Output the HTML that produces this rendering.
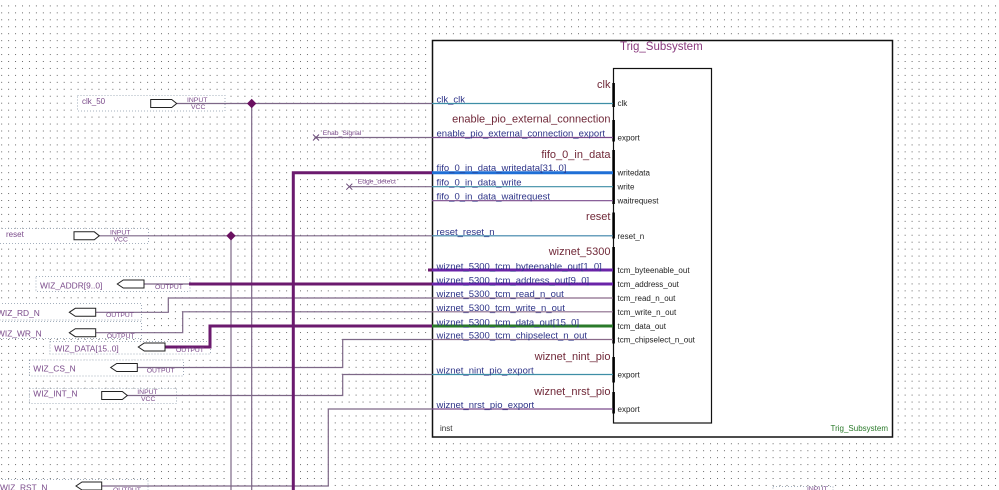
<!DOCTYPE html>
<html><head><meta charset="utf-8"><style>
html,body{margin:0;padding:0;background:#fff;}
svg{display:block;}
text{font-family:"Liberation Sans",Arial,sans-serif;}
</style></head><body>
<svg width="999" height="490" viewBox="0 0 999 490" xmlns="http://www.w3.org/2000/svg">
<defs>
<pattern id="g" patternUnits="userSpaceOnUse" x="1.15" y="5.4" width="6.95" height="6.95">
<rect x="0" y="0" width="1" height="1" fill="#6a6a6a"/>
</pattern>
</defs>
<rect width="999" height="490" fill="#fff"/>
<rect width="999" height="490" fill="url(#g)"/>

<!-- pin boxes -->
<g fill="#fff" stroke="#8896a8" stroke-width="0.8" stroke-dasharray="1 2">
<rect x="77.5" y="95.5" width="147.5" height="15.5"/>
<rect x="-1" y="228.5" width="149.5" height="15"/>
<rect x="36" y="276.5" width="154" height="15"/>
<rect x="-1" y="303.5" width="142.5" height="16.5"/>
<rect x="-1" y="321.5" width="142.5" height="17"/>
<rect x="50" y="341.5" width="160.5" height="12.5"/>
<rect x="29.5" y="360" width="154" height="16"/>
<rect x="29.5" y="388.5" width="147" height="15"/>
<rect x="-1" y="479.5" width="149" height="15"/>
<rect x="773" y="486.5" width="60" height="10"/>
</g>

<!-- outer block -->
<rect x="432.5" y="40.5" width="460" height="396.5" fill="#fff" stroke="#111" stroke-width="1.5"/>
<!-- inner box -->
<rect x="613.5" y="68.5" width="98" height="354.5" fill="#fff" stroke="#111" stroke-width="1.2"/>
<g fill="#000">
<rect x="612.3" y="83" width="2.6" height="24"/>
<rect x="612.3" y="120" width="2.6" height="21.5"/>
<rect x="612.3" y="150" width="2.6" height="54"/>
<rect x="612.3" y="212.5" width="2.6" height="26"/>
<rect x="612.3" y="247" width="2.6" height="96.5"/>
<rect x="612.3" y="357" width="2.6" height="25.5"/>
<rect x="612.3" y="392" width="2.6" height="21.5"/>
</g>

<!-- outside thin wires -->
<g fill="none" stroke="#7d6787" stroke-width="1.2">
<path d="M176.7 103.5H432"/>
<path d="M316 137.5H432"/>
<path d="M349.3 186.7H432"/>
<path d="M99.3 235.8H432"/>
<path d="M144 284H189"/>
<path d="M95.7 312.3H168.3V298H432"/>
<path d="M95.7 332.7H182.7V311.8H432"/>
<path d="M137.3 367.5H342.7V339.5H432"/>
<path d="M127.3 395.5H342.7V374.5H432"/>
<path d="M101.7 486H328.3V409H432"/>
<path d="M231 235.8V490"/>
<path d="M251.7 103.5V490"/>
</g>
<!-- outside buses -->
<g fill="none" stroke="#6b1a6e" stroke-width="3">
<path d="M293.3 492V172.7H432"/>
<path d="M189 284H432"/>
<path d="M165 347H210V326H432"/>
<path d="M428 270H433"/>
</g>
<!-- junctions -->
<g fill="#6a1060">
<path d="M251.7 98.8L256.4 103.5L251.7 108.2L247 103.5Z"/>
<path d="M231 231.1L235.7 235.8L231 240.5L226.3 235.8Z"/>
</g>
<!-- no-connect X -->
<g stroke="#6a4a78" stroke-width="1">
<path d="M313 134.5L319 140.5M319 134.5L313 140.5"/>
<path d="M346.3 183.7L352.3 189.7M352.3 183.7L346.3 189.7"/>
</g>

<!-- inside wires -->
<g fill="none">
<path d="M432 103.5H613" stroke="#3e8ea6" stroke-width="1.2"/>
<path d="M432 137.5H613" stroke="#7a4a8c" stroke-width="1.2"/>
<path d="M432 172.7H613" stroke="#1f6fd6" stroke-width="3"/>
<path d="M432 186.7H613" stroke="#3e8ea6" stroke-width="1.2"/>
<path d="M432 200.7H613" stroke="#7a4a8c" stroke-width="1.2"/>
<path d="M432 235.8H613" stroke="#3a82a8" stroke-width="1.2"/>
<path d="M432 270H613" stroke="#6a24a8" stroke-width="3"/>
<path d="M432 284H613" stroke="#6a24a8" stroke-width="3"/>
<path d="M432 298H613" stroke="#8a6a8a" stroke-width="1.2"/>
<path d="M432 311.8H613" stroke="#8a6a8a" stroke-width="1.2"/>
<path d="M432 326H613" stroke="#2a7a2a" stroke-width="3"/>
<path d="M432 339.5H613" stroke="#8a6a8a" stroke-width="1.2"/>
<path d="M432 374.5H613" stroke="#3e8ea6" stroke-width="1.2"/>
<path d="M432 409H613" stroke="#7a4a8c" stroke-width="1.2"/>
</g>

<!-- pin shapes -->
<g fill="#fff" stroke="#222" stroke-width="1">
<path d="M150.7 99.5H171.7L176.7 103.5L171.7 107.5H150.7Z"/>
<path d="M74 231.8H94.3L99.3 235.8L94.3 239.8H74Z"/>
<path d="M101.7 391.5H122.3L127.3 395.5L122.3 399.5H101.7Z"/>
<path d="M123.3 280H144V288H123.3L117.3 284Z"/>
<path d="M75.3 308.3H95.7V316.3H75.3L69.3 312.3Z"/>
<path d="M75.3 328.7H95.7V336.7H75.3L69.3 332.7Z"/>
<path d="M144.3 343H165V351H144.3L138.3 347Z"/>
<path d="M116.7 363.5H137.3V371.5H116.7L110.7 367.5Z"/>
<path d="M82 482H101.7V490H82L76 486Z"/>
</g>

<!-- pin names -->
<g fill="#7a4a8a" font-size="8.4">
<text x="82" y="104" font-size="8">clk_50</text>
<text x="6" y="237" font-size="8">reset</text>
<text x="40" y="288.5">WIZ_ADDR[9..0]</text>
<text x="-3" y="316">WIZ_RD_N</text>
<text x="-3" y="336.5">WIZ_WR_N</text>
<text x="54.3" y="351.5">WIZ_DATA[15..0]</text>
<text x="33.3" y="371.5">WIZ_CS_N</text>
<text x="33.3" y="396.5">WIZ_INT_N</text>
<text x="0" y="490.5">WIZ_RST_N</text>
</g>
<g fill="#7a4a8a" font-size="6.8">
<text x="187" y="102">INPUT</text><text x="191" y="109">VCC</text>
<text x="110" y="234.5">INPUT</text><text x="113.5" y="241.3">VCC</text>
<text x="137.3" y="394">INPUT</text><text x="141" y="401">VCC</text>
<text x="155" y="289">OUTPUT</text>
<text x="106" y="316.8">OUTPUT</text>
<text x="106.7" y="338">OUTPUT</text>
<text x="176" y="351.8">OUTPUT</text>
<text x="146.7" y="372.5">OUTPUT</text>
<text x="113" y="492">OUTPUT</text>
<text x="807" y="491">INPUT</text>
<text x="322.7" y="135">Enab_Signal</text>
<text x="357.7" y="183.5">Edge_detect</text>
</g>

<!-- block titles -->
<text x="620" y="50" font-size="11.5" fill="#8a3a7e">Trig_Subsystem</text>
<text x="440" y="431" font-size="8" fill="#333">inst</text>
<text x="888" y="431" font-size="8" fill="#2a7a2a" text-anchor="end">Trig_Subsystem</text>

<!-- group labels -->
<g fill="#702838" font-size="11" text-anchor="end">
<text x="610.5" y="88">clk</text>
<text x="610.5" y="122.5">enable_pio_external_connection</text>
<text x="610.5" y="158">fifo_0_in_data</text>
<text x="610.5" y="220">reset</text>
<text x="610.5" y="255">wiznet_5300</text>
<text x="610.5" y="360">wiznet_nint_pio</text>
<text x="610.5" y="395">wiznet_nrst_pio</text>
</g>

<!-- left signal labels -->
<g fill="#2e3488" font-size="9.5">
<text x="436.5" y="102.5">clk_clk</text>
<text x="436.5" y="136.5">enable_pio_external_connection_export</text>
<text x="436.5" y="171">fifo_0_in_data_writedata[31..0]</text>
<text x="436.5" y="185.7">fifo_0_in_data_write</text>
<text x="436.5" y="199.7">fifo_0_in_data_waitrequest</text>
<text x="436.5" y="234.8">reset_reset_n</text>
<text x="436.5" y="269.5">wiznet_5300_tcm_byteenable_out[1..0]</text>
<text x="436.5" y="283.5">wiznet_5300_tcm_address_out[9..0]</text>
<text x="436.5" y="297">wiznet_5300_tcm_read_n_out</text>
<text x="436.5" y="310.8">wiznet_5300_tcm_write_n_out</text>
<text x="436.5" y="325.5">wiznet_5300_tcm_data_out[15..0]</text>
<text x="436.5" y="338.5">wiznet_5300_tcm_chipselect_n_out</text>
<text x="436.5" y="373.5">wiznet_nint_pio_export</text>
<text x="436.5" y="408">wiznet_nrst_pio_export</text>
</g>

<!-- inner pin names -->
<g fill="#222" font-size="8">
<text x="617.5" y="106">clk</text>
<text x="617.5" y="140.5">export</text>
<text x="617.5" y="175.7">writedata</text>
<text x="617.5" y="189.7">write</text>
<text x="617.5" y="203.7">waitrequest</text>
<text x="617.5" y="238.8">reset_n</text>
<text x="617.5" y="273">tcm_byteenable_out</text>
<text x="617.5" y="287">tcm_address_out</text>
<text x="617.5" y="301">tcm_read_n_out</text>
<text x="617.5" y="314.8">tcm_write_n_out</text>
<text x="617.5" y="329">tcm_data_out</text>
<text x="617.5" y="342.5">tcm_chipselect_n_out</text>
<text x="617.5" y="377.5">export</text>
<text x="617.5" y="412">export</text>
</g>
</svg>
</body></html>
